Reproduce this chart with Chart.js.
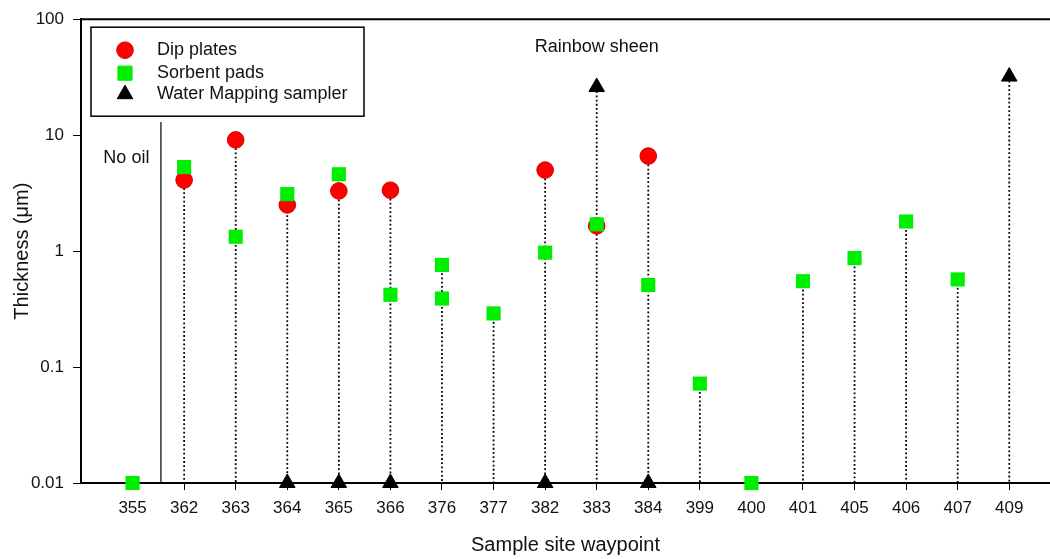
<!DOCTYPE html>
<html>
<head>
<meta charset="utf-8">
<script src="https://cdn.jsdelivr.net/npm/chart.js@4.4.1/dist/chart.umd.min.js"></script>
<style>
  html, body { margin: 0; padding: 0; background: #fff; overflow: hidden; }
  #wrap { width: 1050px; height: 559px; }
</style>
</head>
<body>
<div id="wrap"><canvas id="chart" width="1050" height="559"></canvas></div>
<script>
// ─── DADOS ────────────────────────────────────────────────────────────────
const sites = ['355', '362', '363', '364', '365', '366', '376', '377', '382',
               '383', '384', '399', '400', '401', '405', '406', '407', '409'];

const dipSites  = ['362', '363', '364', '365', '366', '382', '383', '384'];
const dipValues = [4.1, 9.1, 2.5, 3.3, 3.35, 5.0, 1.65, 6.6];

const padSites  = ['355', '362', '363', '364', '365', '366', '376', '376', '377',
                   '382', '383', '384', '399', '400', '401', '405', '406', '407'];
const padValues = [0.01, 5.3, 1.33, 3.1, 4.6, 0.42, 0.76, 0.39, 0.29,
                   0.97, 1.7, 0.51, 0.072, 0.01, 0.55, 0.87, 1.8, 0.57];

const samplerSites  = ['364', '365', '366', '382', '383', '384', '409'];
const samplerValues = [0.01, 0.01, 0.01, 0.01, 26, 0.01, 32];

const yTickValues = [0.01, 0.1, 1, 10, 100];
const yTickLabels = ['0.01', '0.1', '1', '10', '100'];

const FONT = '"Liberation Sans", Arial, sans-serif';
const INK  = '#111';
const Y_MIN = yTickValues[0];
const Y_MAX = yTickValues[yTickValues.length - 1];

// ─── HELPERS ──────────────────────────────────────────────────────────────
const toPoints = (s, v) => s.map((site, i) => ({ x: sites.indexOf(site), y: v[i] }));

const dipPts     = toPoints(dipSites, dipValues);
const padPts     = toPoints(padSites, padValues);
const samplerPts = toPoints(samplerSites, samplerValues);

// linha pontilhada de cada ponto de amostragem: do maior valor até o eixo
const allPts = [...dipPts, ...padPts, ...samplerPts];
const dropLines = sites.flatMap((s, i) => {
  const top = Math.max(...allPts.filter(p => p.x === i).map(p => p.y));
  return [{ x: i, y: top }, { x: i, y: Y_MIN }, { x: i, y: null }];
});

// ─── LEGENDA + ANOTAÇÕES ──────────────────────────────────────────────────
function marker(ctx, style, x, y, ds) {
  ctx.fillStyle = ds.backgroundColor;
  ctx.strokeStyle = ds.borderColor || ds.backgroundColor;
  ctx.lineWidth = ds.borderWidth || 0;
  ctx.beginPath();
  if (style === 'circle') {
    ctx.arc(x, y, ds.pointRadius, 0, Math.PI * 2);
  } else if (style === 'rect') {
    const h = ds.pointRadius * Math.SQRT1_2;
    ctx.rect(x - h, y - h, 2 * h, 2 * h);
  } else {
    const r = ds.pointRadius;
    ctx.moveTo(x, y - r);
    ctx.lineTo(x + r * Math.sin(2 * Math.PI / 3), y + r / 2);
    ctx.lineTo(x - r * Math.sin(2 * Math.PI / 3), y + r / 2);
    ctx.closePath();
  }
  ctx.fill();
  if (ctx.lineWidth) ctx.stroke();
}

const decor = {
  id: 'decor',
  afterDraw(chart) {
    const { ctx, chartArea: a, scales: { x, y } } = chart;
    ctx.save();

    // borda superior
    ctx.strokeStyle = '#000';
    ctx.lineWidth = 2;
    ctx.beginPath();
    ctx.moveTo(a.left - 1, a.top);
    ctx.lineTo(a.right, a.top);
    ctx.stroke();

    // textos
    ctx.font = `18px ${FONT}`;
    ctx.fillStyle = INK;
    ctx.textAlign = 'center';
    ctx.textBaseline = 'middle';
    ctx.fillText('No oil', x.getPixelForValue(-0.12), y.getPixelForValue(6.3));
    ctx.fillText('Rainbow sheen', x.getPixelForValue(sites.indexOf('383')), y.getPixelForValue(58));

    // legenda
    const bx = a.left + 10, by = a.top + 8, bw = 273, bh = 89;
    ctx.fillStyle = '#fff';
    ctx.fillRect(bx, by, bw, bh);
    ctx.strokeStyle = '#000';
    ctx.lineWidth = 1.5;
    ctx.strokeRect(bx, by, bw, bh);

    const ds = chart.data.datasets;
    const rows = [
      { ds: ds[2], style: 'circle',   dy: 23 },
      { ds: ds[1], style: 'rect',     dy: 46 },
      { ds: ds[0], style: 'triangle', dy: 67 },
    ];
    for (const r of rows) {
      marker(ctx, r.style, bx + 34, by + r.dy, r.ds);
      ctx.font = `18px ${FONT}`;
      ctx.fillStyle = INK;
      ctx.textAlign = 'left';
      ctx.textBaseline = 'middle';
      ctx.fillText(r.ds.label, bx + 66, by + r.dy);
    }
    ctx.restore();
  },
};

// ─── GRÁFICO ──────────────────────────────────────────────────────────────
Chart.defaults.font.family = FONT;
Chart.defaults.color = INK;

new Chart(document.getElementById('chart'), {
  type: 'scatter',
  data: {
    datasets: [
      { label: 'Water Mapping sampler', data: samplerPts, order: 0, clip: false,
        pointStyle: 'triangle', pointRadius: 9, backgroundColor: '#000', borderColor: '#000', borderWidth: 1 },
      { label: 'Sorbent pads', data: padPts, order: 1, clip: false,
        pointStyle: 'rect', pointRadius: 10, backgroundColor: '#00ee00', borderColor: '#00ee00', borderWidth: 0 },
      { label: 'Dip plates', data: dipPts, order: 2, clip: false,
        pointStyle: 'circle', pointRadius: 8.3, backgroundColor: '#ff0000', borderColor: '#d00000', borderWidth: 1 },
      { label: 'drop', data: dropLines, order: 3, clip: false, showLine: true, spanGaps: false,
        pointRadius: 0, borderColor: '#000', borderWidth: 1.8, borderDash: [1.8, 2.4] },
      { label: 'no oil', data: [{ x: 0.55, y: Y_MIN }, { x: 0.55, y: 13 }], order: 4, clip: false,
        showLine: true, pointRadius: 0, borderColor: '#000', borderWidth: 1.2 },
    ],
  },
  options: {
    responsive: false,
    animation: false,
    events: [],
    layout: { autoPadding: false, padding: { top: 19, right: 0, bottom: 0, left: 0 } },
    plugins: {
      legend: { display: false },
      tooltip: { enabled: false },
    },
    scales: {
      x: {
        type: 'linear',
        min: -1,
        max: 17.79,
        afterBuildTicks: s => { s.ticks = sites.map((_, i) => ({ value: i })); },
        afterFit: s => { s.height = 76; s.paddingLeft = 0; s.paddingRight = 0; },
        ticks: { callback: v => sites[v], font: { size: 17 }, color: INK, padding: 8, autoSkip: false, maxRotation: 0 },
        grid: { display: true, drawOnChartArea: false, drawTicks: true, tickLength: 7, color: '#000', lineWidth: 1 },
        border: { display: true, color: '#000', width: 2 },
        title: { display: true, text: 'Sample site waypoint', font: { size: 20 }, color: INK, padding: { top: 0, bottom: 2 } },
      },
      y: {
        type: 'logarithmic',
        min: Y_MIN,
        max: Y_MAX,
        afterBuildTicks: s => { s.ticks = yTickValues.map(v => ({ value: v })); },
        afterFit: s => { s.width = 81; },
        ticks: { callback: (v, i) => yTickLabels[i], font: { size: 17 }, color: INK, padding: 9 },
        grid: { display: true, drawOnChartArea: false, drawTicks: true, tickLength: 8, color: '#000', lineWidth: 1 },
        border: { display: true, color: '#000', width: 2 },
        title: { display: true, text: 'Thickness (μm)', font: { size: 20 }, color: INK, padding: { top: 10, bottom: 0 } },
      },
    },
  },
  plugins: [decor],
});
</script>
</body>
</html>
